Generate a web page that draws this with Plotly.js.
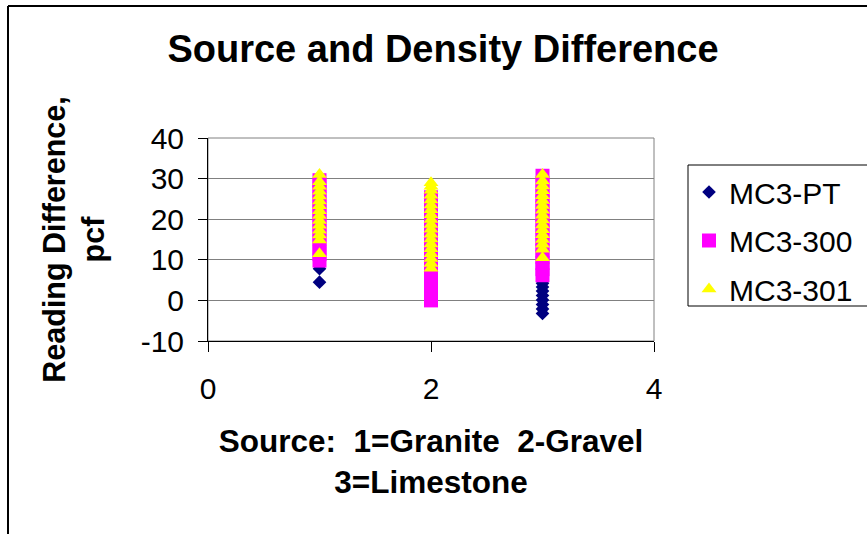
<!DOCTYPE html>
<html>
<head>
<meta charset="utf-8">
<script src="https://cdn.plot.ly/plotly-3.0.1.min.js"></script>
<style>
  html, body { margin: 0; padding: 0; background: #fff; }
  #chart { width: 867px; height: 534px; }
</style>
</head>
<body>
<div id="chart"></div>
<script>
// ---- Data ----
const seriesNames = ["MC3-PT", "MC3-300", "MC3-301"];

const ptSource = [1, 1, 1, 1, 1, 1, 1,
                  2, 2, 2, 2,
                  3, 3, 3, 3, 3, 3, 3, 3];
const ptDiff   = [4.5, 7.8, 10.5, 13.6, 17.2, 20.4, 24.1,
                  3.0, 6.5, 10.5, 14.8,
                  -3.2, -2.1, -1.0, 0.1, 1.2, 2.3, 3.3, 4.2];

const s300Source = [1, 1, 1, 1, 1, 1, 1, 1, 1, 1, 1, 1, 1,
                    2, 2, 2, 2, 2, 2, 2, 2, 2, 2, 2, 2, 2, 2, 2, 2, 2,
                    3, 3, 3, 3, 3, 3, 3, 3, 3, 3, 3, 3, 3, 3, 3, 3, 3];
const s300Diff   = [9.8, 11.4, 13.1, 14.8, 16.5, 18.2, 19.9, 21.6, 23.3, 25.0, 26.7, 28.3, 29.6,
                    0.0, 1.5, 3.0, 4.5, 6.0, 7.5, 9.0, 10.5, 12.0, 13.5, 15.0, 16.5, 18.0, 19.5, 21.0, 22.5, 25.4,
                    6.2, 7.7, 9.2, 10.7, 12.2, 13.7, 15.2, 16.7, 18.2, 19.7, 21.2, 22.7, 24.2, 25.7, 27.2, 28.9, 30.7];

const s301Source = [1, 1, 1, 1, 1, 1, 1, 1, 1, 1, 1, 1, 1, 1, 1,
                    2, 2, 2, 2, 2, 2, 2, 2, 2, 2, 2, 2, 2, 2, 2, 2, 2, 2, 2,
                    3, 3, 3, 3, 3, 3, 3, 3, 3, 3, 3, 3, 3, 3, 3, 3, 3];
const s301Diff   = [11.5, 14.9, 16.1, 17.3, 18.5, 19.7, 20.9, 22.1, 23.3, 24.5, 25.7, 26.9, 28.1, 29.2, 31.0,
                    7.9, 9.1, 10.3, 11.5, 12.7, 13.9, 15.1, 16.3, 17.5, 18.7, 19.9, 21.1, 22.3, 23.5, 24.7, 25.9, 27.1, 28.1, 29.0,
                    10.5, 12.6, 13.8, 15.0, 16.2, 17.4, 18.6, 19.8, 21.0, 22.2, 23.4, 24.6, 25.8, 27.0, 28.2, 29.4, 31.0];

const xTickVals = [0, 2, 4];
const yTickVals = [-10, 0, 10, 20, 30, 40];

// ---- Layout geometry ----
const W = 867, H = 534;
const M = { l: 208, r: 213, t: 138, b: 193 };
const PW = W - M.l - M.r, PH = H - M.t - M.b;
const px2x = px => (px - M.l) / PW;
const px2y = py => (H - M.b - py) / PH;

const FONT = "Liberation Sans, Arial, sans-serif";

const traces = [
  {
    type: "scatter", mode: "markers", name: seriesNames[0], legendgroup: "a",
    x: ptSource, y: ptDiff,
    marker: { symbol: "diamond", color: "#000080", size: 10.5 },
    cliponaxis: false
  },
  {
    type: "scatter", mode: "markers", name: seriesNames[1], legendgroup: "b",
    x: s300Source, y: s300Diff,
    marker: { symbol: "square", color: "#FF00FF", size: 14 },
    cliponaxis: false
  },
  {
    type: "scatter", mode: "markers", name: seriesNames[2], legendgroup: "c",
    x: s301Source, y: s301Diff,
    marker: { symbol: "triangle-up", color: "#FFFF00", size: 13 },
    cliponaxis: false
  }
];

const layout = {
  width: W, height: H,
  margin: M,
  paper_bgcolor: "#ffffff",
  plot_bgcolor: "#ffffff",
  font: { family: FONT, color: "#000000", size: 30 },
  title: {
    text: "<b>Source and Density Difference</b>",
    font: { family: FONT, size: 38, color: "#000" },
    x: 443 / W, xref: "container", xanchor: "center",
    y: 1 - 49 / H, yref: "container", yanchor: "middle"
  },
  xaxis: {
    range: [0, 4],
    tickvals: xTickVals,
    ticktext: xTickVals.map(String),
    showgrid: false, zeroline: false,
    showline: true, linecolor: "#000", linewidth: 1,
    ticks: "outside", ticklen: 10, tickcolor: "#000", tickwidth: 1,
    ticklabelstandoff: 11,
    tickfont: { family: FONT, size: 30 },
    title: {
      text: "<b>Source:  1=Granite  2-Gravel<br>3=Limestone</b>",
      font: { family: FONT, size: 31.5 },
      standoff: 25
    },
    automargin: false,
    fixedrange: true
  },
  yaxis: {
    range: [-10, 40],
    tickvals: yTickVals,
    ticktext: yTickVals.map(String),
    showgrid: true, gridcolor: "#808080", gridwidth: 1,
    zeroline: false,
    showline: true, linecolor: "#000", linewidth: 1,
    ticks: "outside", ticklen: 9, tickcolor: "#000", tickwidth: 1,
    ticklabelstandoff: 8,
    tickfont: { family: FONT, size: 30 },
    title: {
      text: "<b>Reading Difference,<br>pcf</b>",
      font: { family: FONT, size: 30.5 },
      standoff: 26
    },
    automargin: false,
    fixedrange: true
  },
  showlegend: true,
  legend: {
    xref: "container", yref: "container",
    x: 689 / W, xanchor: "left",
    y: 1 - 166 / H, yanchor: "top",
    bgcolor: "rgba(0,0,0,0)",
    borderwidth: 0,
    traceorder: "grouped",
    tracegroupgap: 6.5,
    itemwidth: 30,
    font: { family: FONT, size: 30, color: "#000" }
  },
  shapes: [
    // plot-area border (top/right in gray)
    { type: "rect", xref: "paper", yref: "paper", x0: 0, x1: 1, y0: 0, y1: 1,
      line: { color: "#808080", width: 1 }, layer: "below" },
    // legend box
    { type: "rect", xref: "paper", yref: "paper",
      x0: px2x(688), x1: px2x(900), y0: px2y(306), y1: px2y(165),
      line: { color: "#000", width: 1 }, layer: "below" },
    // outer chart frame (top and left edges visible)
    { type: "line", xref: "paper", yref: "paper",
      x0: px2x(8), x1: px2x(900), y0: px2y(6), y1: px2y(6),
      line: { color: "#000", width: 2 } },
    { type: "line", xref: "paper", yref: "paper",
      x0: px2x(8), x1: px2x(8), y0: px2y(6), y1: px2y(560),
      line: { color: "#000", width: 2 } }
  ]
};

Plotly.newPlot("chart", traces, layout, { displayModeBar: false, staticPlot: true });
</script>
</body>
</html>
